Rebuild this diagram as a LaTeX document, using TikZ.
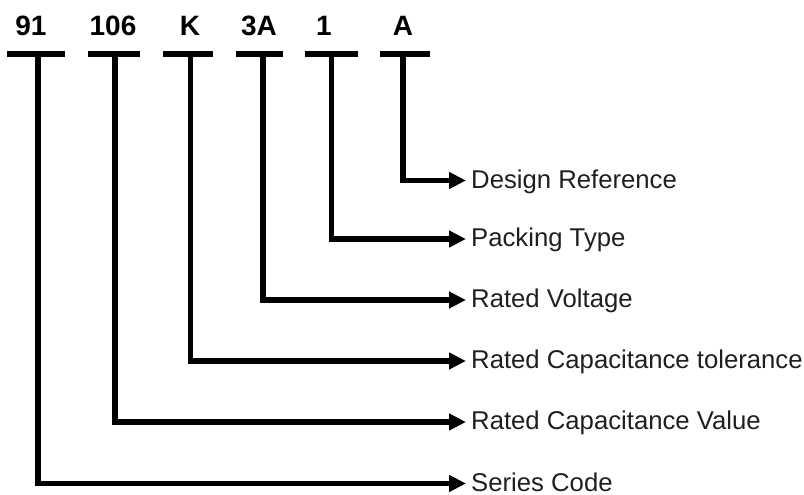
\documentclass[tikz,border=0pt]{standalone}
\usepackage{fontspec}
\setmainfont{Liberation Sans}
\usetikzlibrary{arrows.meta}
\tikzset{
  code/.style={anchor=base, inner sep=0pt, font=\fontsize{28}{30}\selectfont\bfseries},
  bar/.style={fill=black, inner sep=0pt, minimum height=5.5pt},
  field/.style={anchor=west, inner xsep=5pt, inner ysep=0pt, text height=15pt, text depth=0pt,
    text=black!88, font=\fontsize{25.7}{27}\selectfont},
  lead/.style={line width=5.5pt, -{Triangle[length=17pt,width=16pt]}}
}
\begin{document}
\begin{tikzpicture}[x=1pt, y=1pt]
  \useasboundingbox (0,0) rectangle (804,-495);
  % part number
  \node[code] (l1) at (31,-35.7) {91};
  \node[code] (l2) at (113,-35.7) {106};
  \node[code] (l3) at (190,-35.7) {K};
  \node[code] (l4) at (259,-35.7) {3A};
  \node[code] (l5) at (324,-35.7) {1};
  \node[code] (l6) at (403,-35.7) {A};
  \node[bar, minimum width=58pt] (bar1) at (36,-54) {};
  \node[bar, minimum width=52pt] (bar2) at (114,-54) {};
  \node[bar, minimum width=50pt] (bar3) at (188,-54) {};
  \node[bar, minimum width=47pt] (bar4) at (259.5,-54) {};
  \node[bar, minimum width=53pt] (bar5) at (331.5,-54) {};
  \node[bar, minimum width=50pt] (bar6) at (405,-54) {};
  % meanings
  \node[field] (d6) at (466,-180.5) {Design Reference};
  \node[field] (d5) at (466,-239) {Packing Type};
  \node[field] (d4) at (466,-300) {Rated Voltage};
  \node[field] (d3) at (466,-361) {Rated Capacitance tolerance};
  \node[field] (d2) at (466,-422) {Rated Capacitance Value};
  \node[field] (d1) at (466,-483.5) {Series Code};
  \draw[lead] ([xshift=2pt]bar1.center) |- (d1.west);
  \draw[lead] ([xshift=1pt]bar2.center) |- (d2.west);
  \draw[lead] ([xshift=2.5pt]bar3.center) |- (d3.west);
  \draw[lead] ([xshift=3.5pt]bar4.center) |- (d4.west);
  \draw[lead] (bar5.center) |- (d5.west);
  \draw[lead] ([xshift=-2pt]bar6.center) |- (d6.west);
\end{tikzpicture}
\end{document}
